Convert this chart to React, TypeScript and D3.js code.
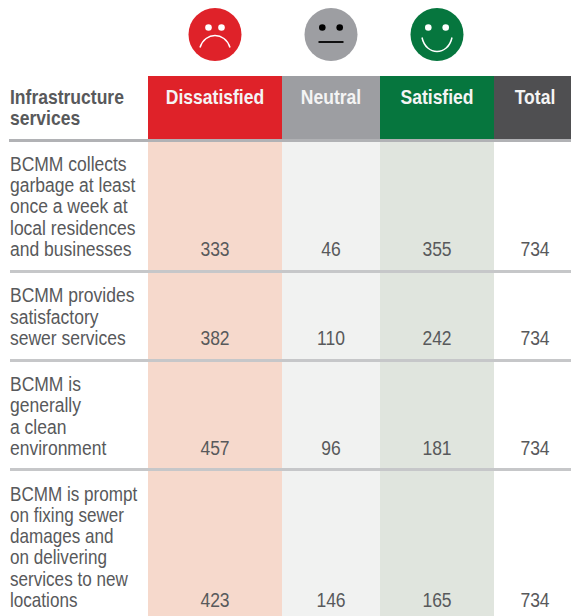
import * as d3 from "d3";

const columns = ["Dissatisfied", "Neutral", "Satisfied", "Total"];
const headerColors = ["#df2229", "#9d9ea2", "#06763e", "#4f4f51"];
const bodyColors = ["#f6d9cc", "#f1f2f1", "#e0e5de", "#ffffff"];
const faceColors = ["#df2229", "#9d9ea2", "#06763e"];
const faceInk = ["#ffffff", "#000000", "#ffffff"];

const rowLabels = [
  ["BCMM collects", "garbage at least", "once a week at", "local residences", "and businesses"],
  ["BCMM provides", "satisfactory", "sewer services"],
  ["BCMM is", "generally", "a clean", "environment"],
  ["BCMM is prompt", "on fixing sewer", "damages and", "on delivering", "services to new", "locations"],
];
const dissatisfied = [333, 382, 457, 423];
const neutral = [46, 110, 96, 146];
const satisfied = [355, 242, 181, 165];
const total = [734, 734, 734, 734];

const W = 571;
const H = 616;
const colEdges = [148, 282, 380, 494, 571];
const rowBottoms = [271, 360, 469, 616];
const lastBaselines = [256, 345, 455, 607];
const rowNarrow = [0.875, 0.875, 0.875, 0.855];
const lineH = 21.3;

const xLeft = d3.scaleOrdinal<string, number>().domain(columns).range(colEdges.slice(0, 4));
const xRight = d3.scaleOrdinal<string, number>().domain(columns).range(colEdges.slice(1));
const faceX = d3.scaleOrdinal<string, number>().domain(columns).range([215, 331, 437]);
const labelX = d3.scaleOrdinal<string, number>().domain(columns).range([215, 331, 437, 535]);

const font = "'Liberation Sans', Arial, sans-serif";

// condensed type, the picture uses a narrow Arial
const NarrowText = ({ x, y, anchor = "start", size = 20, weight = 400, fill = "#58595b", narrow = 0.875, children }: any) => (
  <text
    transform={`translate(${x},${y}) scale(${narrow},1)`}
    textAnchor={anchor}
    fontFamily={font}
    fontSize={size}
    fontWeight={weight}
    fill={fill}
  >
    {children}
  </text>
);

const Face = ({ cx, index }: { cx: number; index: number }) => {
  const cy = 34.5;
  const ink = faceInk[index];
  const eyeGap = index === 0 ? 6.5 : 8.7;
  const mouth = [
    `M${cx - 15},${cy + 13} C${cx - 10},${cy - 3} ${cx + 10},${cy - 3} ${cx + 15},${cy + 13}`,
    `M${cx - 12.5},${cy + 7.5} L${cx + 12.5},${cy + 7.5}`,
    `M${cx - 15},${cy + 3} C${cx - 11},${cy + 21.7} ${cx + 11},${cy + 21.7} ${cx + 15},${cy + 3}`,
  ][index];
  return (
    <g>
      <ellipse cx={cx} cy={cy} rx={26.5} ry={26.5} fill={faceColors[index]} />
      <circle cx={cx - eyeGap} cy={cy - 7} r={3.3} fill={ink} />
      <circle cx={cx + eyeGap} cy={cy - 7} r={3.3} fill={ink} />
      <path d={mouth} fill="none" stroke={ink} strokeWidth={index === 1 ? 1.8 : 1.5} />
    </g>
  );
};

export default function App() {
  const series = [dissatisfied, neutral, satisfied, total];
  return (
    <svg
      width={W}
      height={H}
      viewBox={`0 0 ${W} ${H}`}
      style={{ position: "absolute", left: 0, top: 0, display: "block", background: "#fff" }}
    >
      {columns.slice(0, 3).map((c, i) => (
        <Face key={c} cx={faceX(c)} index={i} />
      ))}

      {columns.map((c, i) => (
        <g key={c}>
          <rect x={xLeft(c)} y={76} width={xRight(c) - xLeft(c)} height={63} fill={headerColors[i]} />
          <rect x={xLeft(c)} y={142} width={xRight(c) - xLeft(c)} height={H - 142} fill={bodyColors[i]} />
          <NarrowText x={labelX(c)} y={104} anchor="middle" weight={700} size={20.5} narrow={0.855} fill="#f4f4f4">
            {c}
          </NarrowText>
        </g>
      ))}

      <NarrowText x={10} y={104} weight={700} size={20.5} narrow={0.855}>Infrastructure</NarrowText>
      <NarrowText x={10} y={125} weight={700} size={20.5} narrow={0.855}>services</NarrowText>

      <rect x={9} y={139} width={W - 9} height={3} fill="#b1b2b5" />
      {rowBottoms.slice(0, 3).map((y) => (
        <rect key={y} x={10} y={y - 1} width={W - 10} height={3} fill="#c6c7c9" />
      ))}

      {rowLabels.map((lines, r) => (
        <g key={r}>
          {lines.map((line, j) => (
            <NarrowText key={line} x={10} y={lastBaselines[r] - (lines.length - 1 - j) * lineH} narrow={rowNarrow[r]}>
              {line}
            </NarrowText>
          ))}
          {columns.map((c, i) => (
            <NarrowText key={c} x={labelX(c)} y={lastBaselines[r]} anchor="middle">
              {series[i][r]}
            </NarrowText>
          ))}
        </g>
      ))}
    </svg>
  );
}
